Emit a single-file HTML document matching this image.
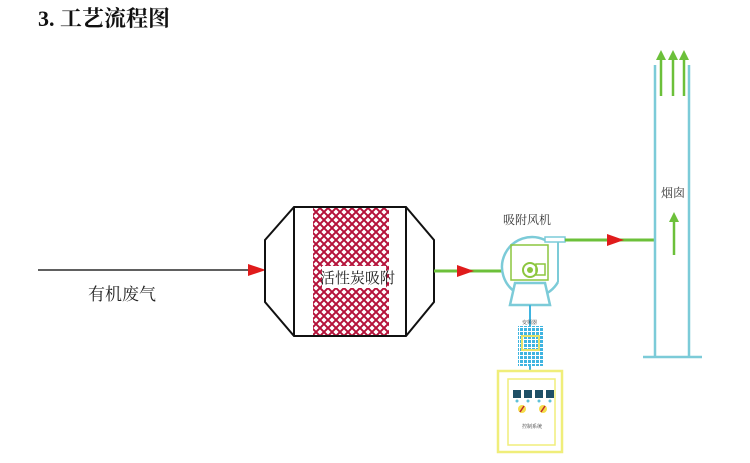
<!DOCTYPE html>
<html><head><meta charset="utf-8"><style>
html,body{margin:0;padding:0;background:#fff;width:750px;height:463px;overflow:hidden}
</style></head><body>
<svg width="750" height="463" viewBox="0 0 750 463" xmlns="http://www.w3.org/2000/svg">
<defs>
<pattern id="hatch" width="8" height="8" patternUnits="userSpaceOnUse">
<rect width="8" height="8" fill="#fff"/>
<path d="M-1 1L1 -1M0 8L8 0M7 9L9 7" stroke="#b5123a" stroke-width="2"/>
<path d="M-1 7L1 9M0 0L8 8M7 -1L9 1" stroke="#b5123a" stroke-width="2"/>
</pattern>
<pattern id="dots" width="4" height="4" patternUnits="userSpaceOnUse">
<rect width="4" height="4" fill="#fff"/><rect width="3" height="3" fill="#3fb4e0"/>
</pattern>
</defs>
<text x="38" y="26" font-family="'Liberation Serif','Noto Serif CJK SC',serif" font-weight="bold" font-size="22" fill="#111">3. 工艺流程图</text>
<line x1="38" y1="270" x2="252" y2="270" stroke="#000" stroke-width="1.2"/>
<path d="M248 264L266 270L248 276Z" fill="#e01b1b"/>
<text x="88" y="300" font-family="'Liberation Serif','Noto Serif CJK SC',serif" font-size="17" fill="#222">有机废气</text>
<rect x="313" y="207" width="76" height="129" fill="url(#hatch)"/>
<polygon points="265,240 294,207 406,207 434,240 434,302 406,336 294,336 265,302" fill="none" stroke="#111" stroke-width="2"/>
<line x1="294" y1="207" x2="294" y2="336" stroke="#111" stroke-width="2"/>
<line x1="406" y1="207" x2="406" y2="336" stroke="#111" stroke-width="2"/>
<rect x="322" y="266" width="64" height="22" fill="#fff"/>
<text x="320" y="283" font-family="'Liberation Serif','Noto Serif CJK SC',serif" font-size="15" fill="#222">活性炭吸附</text>
<line x1="434" y1="271" x2="502" y2="271" stroke="#6cc03a" stroke-width="3"/>
<path d="M457 265L474 271L457 277Z" fill="#e01b1b"/>
<text x="503" y="224" font-family="'Liberation Serif','Noto Serif CJK SC',serif" font-size="12" fill="#333">吸附风机</text>
<path d="M545 240 A30 30 0 1 0 558 282" fill="none" stroke="#7ccbd8" stroke-width="2.5"/>
<line x1="558" y1="240" x2="558" y2="282" stroke="#7ccbd8" stroke-width="2"/>
<rect x="545" y="237" width="20" height="5" fill="#fff" stroke="#7ccbd8" stroke-width="1.5"/>
<rect x="511" y="245" width="37" height="35" fill="none" stroke="#8cc63f" stroke-width="1.5"/>
<circle cx="530" cy="270" r="7" fill="#fff" stroke="#8cc63f" stroke-width="2"/>
<circle cx="530" cy="270" r="3" fill="#8cc63f"/>
<rect x="536" y="264" width="9" height="11" fill="none" stroke="#8cc63f" stroke-width="1.5"/>
<polygon points="515,283 545,283 550,305 510,305" fill="#fff" stroke="#7ccbd8" stroke-width="2.5"/>
<line x1="530" y1="305" x2="530" y2="372" stroke="#3fb4e0" stroke-width="2"/>
<line x1="565" y1="240" x2="655" y2="240" stroke="#6cc03a" stroke-width="3"/>
<path d="M607 234L624 240L607 246Z" fill="#e01b1b"/>
<text x="522" y="324" font-family="'Liberation Serif','Noto Serif CJK SC',serif" font-size="5" fill="#333">变频器</text>
<rect x="518" y="326" width="25" height="40" fill="url(#dots)"/>
<rect x="522" y="336" width="17" height="14" fill="none" stroke="#e7e36a" stroke-width="2"/>
<rect x="498" y="371" width="64" height="81" fill="#fff" stroke="#f0ee7a" stroke-width="2.5"/>
<rect x="508" y="379" width="47" height="66" fill="none" stroke="#f0ee7a" stroke-width="1.5"/>
<g fill="#1e4f66">
<rect x="513" y="390" width="8" height="8"/><rect x="524" y="390" width="8" height="8"/><rect x="535" y="390" width="8" height="8"/><rect x="546" y="390" width="8" height="8"/>
</g>
<g fill="#5fc2d8">
<circle cx="517" cy="401" r="1.5"/><circle cx="528" cy="401" r="1.5"/><circle cx="539" cy="401" r="1.5"/><circle cx="550" cy="401" r="1.5"/>
</g>
<circle cx="522" cy="409" r="4" fill="#f5dd4a"/><line x1="520" y1="412" x2="524" y2="406" stroke="#c0282e" stroke-width="1.5"/>
<circle cx="543" cy="409" r="4" fill="#f5dd4a"/><line x1="541" y1="412" x2="545" y2="406" stroke="#c0282e" stroke-width="1.5"/>
<text x="522" y="428" font-family="'Liberation Serif','Noto Serif CJK SC',serif" font-size="5" fill="#333">控制系统</text>
<line x1="655" y1="65" x2="655" y2="357" stroke="#7ccbd8" stroke-width="2.5"/>
<line x1="689" y1="65" x2="689" y2="357" stroke="#7ccbd8" stroke-width="2.5"/>
<line x1="643" y1="357" x2="702" y2="357" stroke="#7ccbd8" stroke-width="2.5"/>
<g stroke="#6cc03a" stroke-width="2.5">
<line x1="661" y1="96" x2="661" y2="58"/><line x1="673" y1="96" x2="673" y2="58"/><line x1="684" y1="96" x2="684" y2="58"/>
<line x1="674" y1="255" x2="674" y2="220"/>
</g>
<g fill="#6cc03a">
<path d="M656 60L661 50L666 60Z"/><path d="M668 60L673 50L678 60Z"/><path d="M679 60L684 50L689 60Z"/>
<path d="M669 222L674 212L679 222Z"/>
</g>
<text x="661" y="197" font-family="'Liberation Serif','Noto Serif CJK SC',serif" font-size="12" fill="#333">烟囱</text>
</svg>
</body></html>
